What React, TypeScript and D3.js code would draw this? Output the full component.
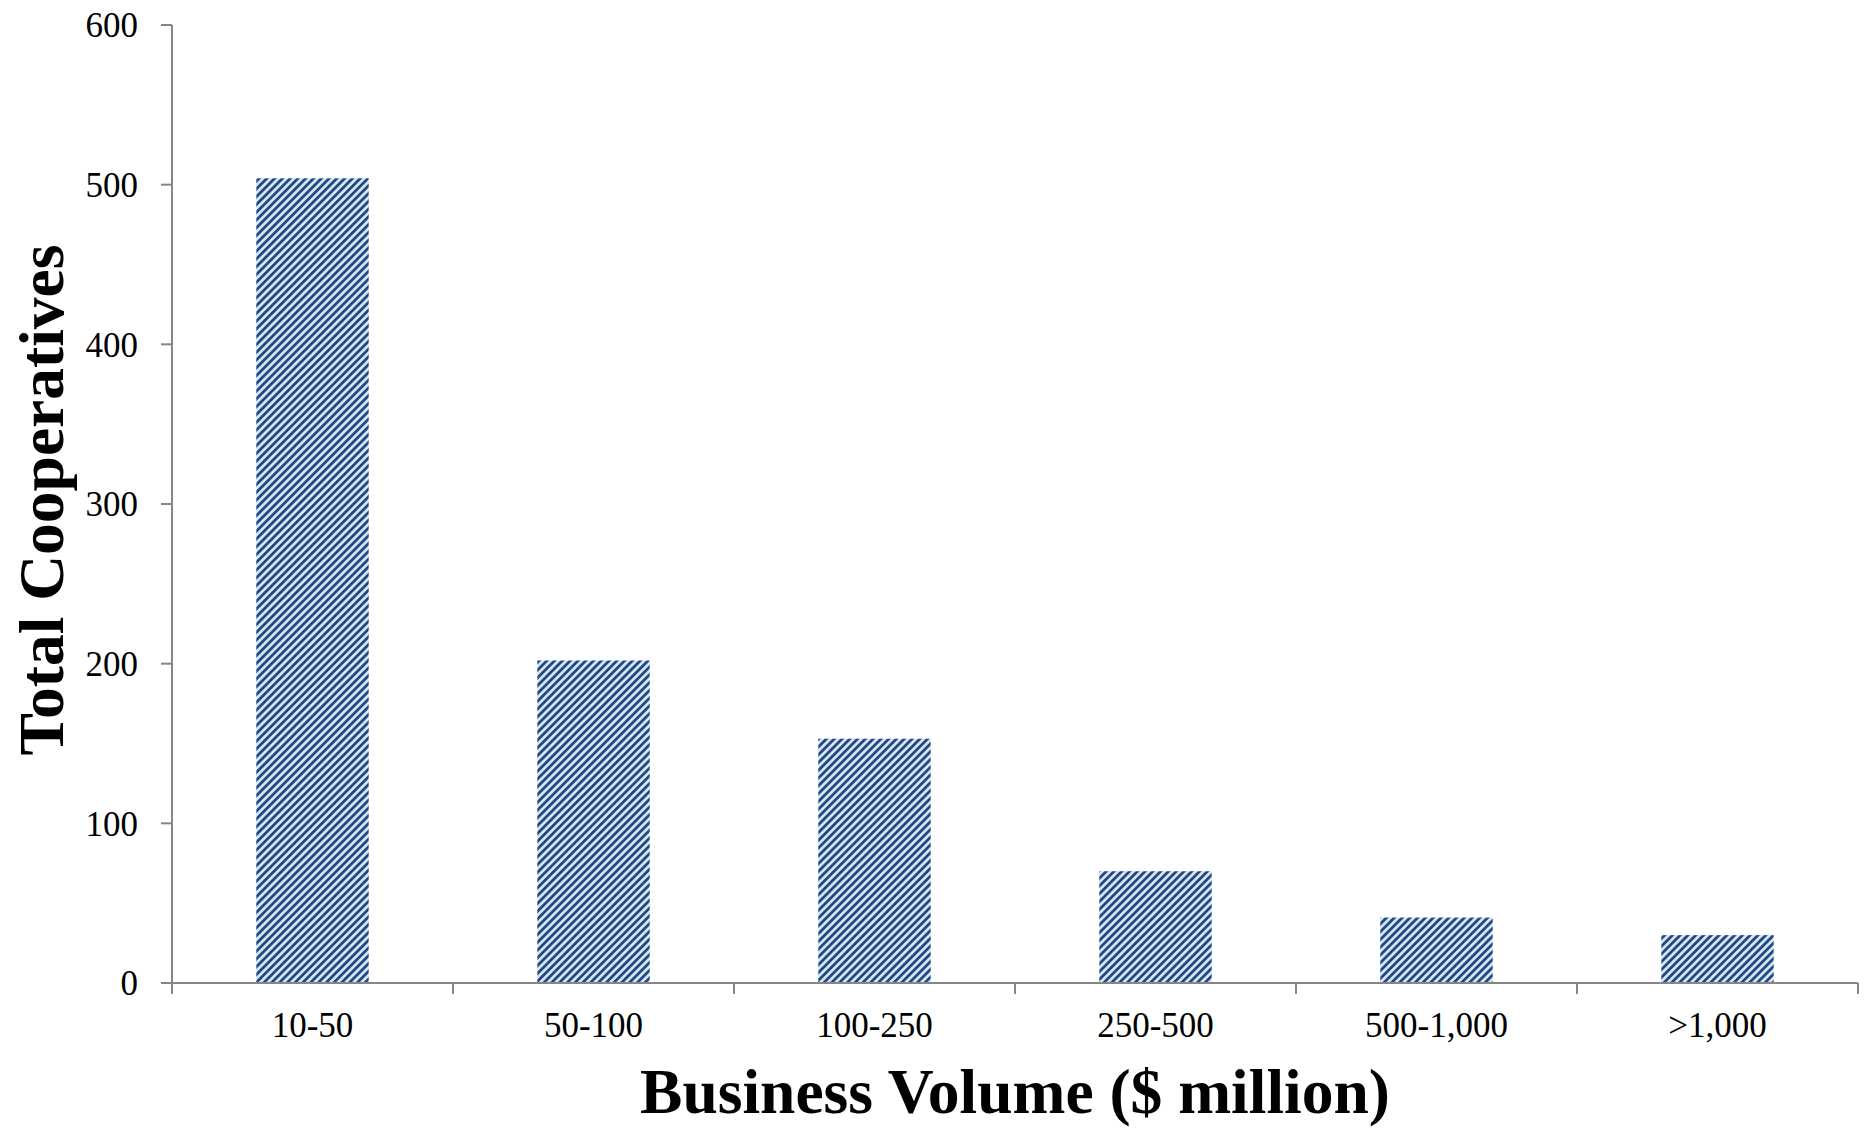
import React from "react";
import * as d3 from "d3";

const categories = ["10-50", "50-100", "100-250", "250-500", "500-1,000", ">1,000"];
const values = [504, 202, 153, 70, 41, 30];
const yTicks = [0, 100, 200, 300, 400, 500, 600];
const xTitle = "Business Volume ($ million)";
const yTitle = "Total Cooperatives";

const W = 1866;
const H = 1128;
const left = 172;
const right = 1858;
const top = 25;
const bottom = 983;
const font = "'Liberation Serif', 'Times New Roman', serif";
const axisColor = "#868686";

export default function App() {
  const x = d3.scaleBand<string>().domain(categories).range([left, right]).paddingInner(0.6).paddingOuter(0.3);
  const xCat = d3.scaleBand<string>().domain(categories).range([left, right]);
  const y = d3.scaleLinear().domain([0, 600]).range([bottom, top]);
  const bounds = d3.range(categories.length + 1).map((i) => left + i * xCat.step());

  return (
    <svg width={W} height={H} style={{ position: "absolute", left: 0, top: 0, background: "#fff" }}>
      <defs>
        <pattern id="stripes" width={5.5} height={5.5} patternUnits="userSpaceOnUse" patternTransform="rotate(45)">
          <rect width={5.5} height={5.5} fill="#dce6f2" />
          <rect width={2.8} height={5.5} fill="#1f4a86" />
        </pattern>
      </defs>
      {values.map((v, i) => (
        <rect
          key={categories[i]}
          x={x(categories[i])}
          y={y(v)}
          width={x.bandwidth()}
          height={bottom - y(v)}
          fill="url(#stripes)"
        />
      ))}
      {/* y axis */}
      <line x1={left} x2={left} y1={top} y2={bottom} stroke={axisColor} strokeWidth={2} />
      {yTicks.map((t) => (
        <g key={t}>
          <line x1={left - 11} x2={left} y1={y(t)} y2={y(t)} stroke={axisColor} strokeWidth={2} />
          <text x={138} y={y(t)} dy="0.35em" textAnchor="end" fontFamily={font} fontSize={35} fill="#000">
            {t}
          </text>
        </g>
      ))}
      {/* x axis */}
      <line x1={left} x2={right} y1={bottom} y2={bottom} stroke={axisColor} strokeWidth={2} />
      {bounds.map((b, i) => (
        <line key={i} x1={b} x2={b} y1={bottom} y2={bottom + 11} stroke={axisColor} strokeWidth={2} />
      ))}
      {categories.map((c) => (
        <text
          key={c}
          x={(xCat(c) as number) + xCat.bandwidth() / 2}
          y={1037}
          textAnchor="middle"
          fontFamily={font}
          fontSize={35}
          fill="#000"
        >
          {c}
        </text>
      ))}
      <text x={(left + right) / 2} y={1113} textAnchor="middle" fontFamily={font} fontSize={63.5} fontWeight="bold" fill="#000">
        {xTitle}
      </text>
      <text
        transform={`translate(63, 500) rotate(-90)`}
        textAnchor="middle"
        fontFamily={font}
        fontSize={63.5}
        fontWeight="bold"
        fill="#000"
      >
        {yTitle}
      </text>
    </svg>
  );
}
